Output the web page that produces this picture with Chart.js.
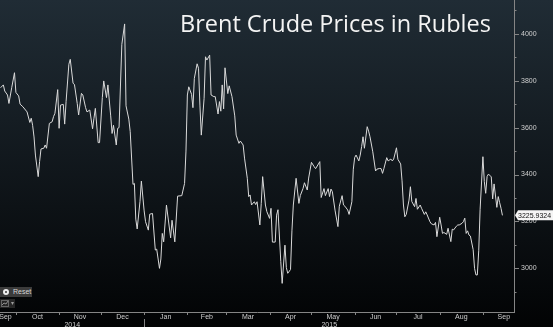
<!DOCTYPE html>
<html>
<head>
<meta charset="utf-8">
<script src="https://cdn.jsdelivr.net/npm/chart.js@4.4.0/dist/chart.umd.min.js"></script>
<style>
    html, body { margin: 0; padding: 0; }
    body {
        width: 553px;
        height: 327px;
        overflow: hidden;
        position: relative;
        background: linear-gradient(#202c35, #020304);
        font-family: 'Liberation Sans', Arial, sans-serif;
    }
    #chart { position: absolute; left: 0; top: 0; }
    .reset {
        position: absolute; left: 0; top: 287px; width: 32px; height: 10px;
        background: #3b3b3b; color: #d6d6d6; font-size: 7px; line-height: 10px;
    }
    .reset .gear {
        position: absolute; left: 3px; top: 2px; width: 2px; height: 2px;
        border: 2px solid #eeeeee; border-radius: 50%; background: #3b3b3b;
    }
    .reset .label { position: absolute; left: 13px; top: 0; }
    .chart-type {
        position: absolute; left: 0; top: 299px; width: 15px; height: 9px;
        background: #262626; color: #9a9a9a; font-size: 6px; line-height: 9px;
    }
    .chart-type svg { position: absolute; left: 1px; top: 1px; }
    .chart-type .arrow { position: absolute; left: 11px; top: 0; }
</style>
</head>
<body>
<canvas id="chart" width="553" height="327"></canvas>
<div class="reset"><span class="gear"></span><span class="label">Reset</span></div>
<div class="chart-type">
    <svg width="8" height="7" viewBox="0 0 8 7"><rect x="0.5" y="0.5" width="7" height="6" fill="none" stroke="#666"/><polyline points="1,5 3,3 5,4 7,1" fill="none" stroke="#aaa" stroke-width="0.8"/></svg>
    <span class="arrow">&#9662;</span>
</div>
<script>
// Brent in rubles, days counted from 1 Sep 2014
const days = [19, 21, 22, 24, 25, 27, 29, 30, 32, 33, 35, 38, 40, 41, 42, 43, 44, 46, 47, 48,
    50, 51, 52, 54, 56, 57, 58, 60, 61, 62, 64, 65, 66, 68, 69, 71, 72, 74, 75, 77,
    78, 80, 81, 83, 85, 86, 87, 89, 90, 92, 93, 95, 96, 98, 99, 100, 102, 103, 104, 106,
    108, 109, 111, 112, 114, 115, 116, 117, 119, 120, 122, 123, 125, 126, 128, 130, 131, 133, 134, 135,
    136, 138, 141, 142, 144, 146, 149, 151, 152, 153, 154, 156, 157, 158, 160, 161, 162, 163, 165, 166,
    167, 169, 170, 172, 173, 175, 176, 177, 178, 179, 180, 182, 183, 185, 187, 188, 190, 191, 193, 194,
    196, 197, 198, 199, 201, 202, 203, 205, 206, 207, 209, 210, 212, 213, 214, 216, 217, 218, 220, 221,
    223, 224, 225, 227, 228, 229, 231, 233, 234, 236, 237, 239, 240, 242, 244, 245, 247, 248, 249, 251,
    252, 254, 255, 256, 257, 259, 261, 262, 264, 265, 266, 268, 269, 271, 272, 273, 274, 276, 277, 278,
    279, 280, 282, 283, 284, 286, 288, 289, 291, 292, 293, 294, 296, 297, 299, 300, 301, 303, 304, 306,
    307, 308, 309, 310, 312, 313, 314, 316, 317, 318, 320, 321, 323, 324, 325, 327, 328, 330, 331, 332,
    334, 335, 336, 337, 339, 340, 342, 343, 344, 346, 347, 348, 350, 351, 352, 353, 354, 355, 356, 358,
    359, 360, 361, 362, 363, 365, 366, 367, 368, 369, 371, 372, 373, 375, 376, 377, 378, 379];

const prices = [3770, 3782, 3756, 3739, 3703, 3770, 3834, 3750, 3735, 3700, 3689, 3667, 3622, 3640, 3610, 3560, 3483, 3391, 3455, 3509,
    3512, 3526, 3512, 3618, 3625, 3647, 3661, 3762, 3597, 3696, 3699, 3615, 3711, 3870, 3891, 3789, 3784, 3703, 3654, 3746,
    3739, 3685, 3667, 3675, 3595, 3640, 3682, 3536, 3536, 3728, 3799, 3728, 3782, 3650, 3575, 3610, 3526, 3597, 3600, 3955,
    4042, 3693, 3636, 3583, 3358, 3362, 3210, 3168, 3284, 3372, 3245, 3199, 3163, 3231, 3234, 3078, 3082, 3000, 3040, 3149,
    3113, 3270, 3130, 3205, 3113, 3308, 3310, 3362, 3500, 3739, 3774, 3742, 3685, 3810, 3872, 3853, 3696, 3568, 3725, 3902,
    3888, 3909, 3739, 3732, 3732, 3658, 3711, 3670, 3782, 3680, 3855, 3745, 3778, 3732, 3650, 3568, 3533, 3543, 3526, 3470,
    3384, 3306, 3313, 3270, 3284, 3272, 3284, 3185, 3277, 3391, 3270, 3242, 3213, 3256, 3112, 3112, 3227, 3250, 3030, 2936,
    3099, 3003, 2979, 2995, 3160, 3270, 3384, 3277, 3310, 3341, 3365, 3334, 3385, 3452, 3433, 3425, 3445, 3455, 3302, 3340,
    3310, 3340, 3306, 3338, 3327, 3245, 3178, 3265, 3310, 3270, 3265, 3249, 3230, 3284, 3420, 3472, 3483, 3458, 3483, 3519,
    3561, 3512, 3604, 3585, 3561, 3497, 3415, 3423, 3426, 3425, 3405, 3426, 3472, 3458, 3466, 3458, 3466, 3514, 3465, 3445,
    3373, 3270, 3220, 3230, 3291, 3348, 3285, 3263, 3298, 3252, 3270, 3256, 3230, 3241, 3228, 3199, 3190, 3185, 3196, 3135,
    3218, 3185, 3149, 3153, 3145, 3171, 3114, 3167, 3164, 3180, 3185, 3185, 3192, 3199, 3214, 3149, 3160, 3142, 3138, 3080,
    3000, 2972, 2972, 3075, 3252, 3476, 3370, 3320, 3392, 3402, 3390, 3296, 3360, 3260, 3306, 3280, 3256, 3225.9324];

const monthLabels = ['Sep', 'Oct', 'Nov', 'Dec', 'Jan', 'Feb', 'Mar', 'Apr', 'May', 'Jun', 'Jul', 'Aug', 'Sep'];
const monthCentres = [22.5, 45.5, 76, 106.5, 137.5, 167, 196.5, 227, 257.5, 288, 318.5, 349.5, 380];
const monthStarts = [30, 61, 91, 122, 153, 181, 212, 242, 273, 303, 334, 365];
const yearLabels = ['2014', '2015'];
const yearStart = 122;
const priceTicks = [2900, 3000, 3100, 3200, 3300, 3400, 3500, 3600, 3700, 3800, 3900, 4000, 4100];
const title = 'Brent Crude Prices in Rubles';

const axisGrey = '#858585';
const labelGrey = '#cfcfcf';

// no extra room around the plot for edge labels
function fixSize(scale, size) {
    if (scale.isHorizontal()) {
        scale.height = size;
    } else {
        scale.width = size;
    }
    scale.paddingTop = 0;
    scale.paddingBottom = 0;
    scale.paddingLeft = 0;
    scale.paddingRight = 0;
}

// tick marks, year row, title and the last-price tag
const overlay = {
    id: 'overlay',
    afterDraw(chart) {
        const { ctx, chartArea, scales: { x, y } } = chart;
        ctx.save();
        ctx.strokeStyle = axisGrey;
        ctx.lineWidth = 1;

        y.ticks.forEach(t => {
            const py = Math.round(y.getPixelForValue(t.value)) + 0.5;
            const len = t.value % 200 === 0 ? 5 : 2.5;
            ctx.beginPath();
            ctx.moveTo(chartArea.right, py);
            ctx.lineTo(chartArea.right + len, py);
            ctx.stroke();
        });

        monthStarts.forEach(d => {
            const px = Math.round(x.getPixelForValue(d)) + 0.5;
            ctx.beginPath();
            ctx.moveTo(px, chartArea.bottom);
            ctx.lineTo(px, chartArea.bottom + 3);
            ctx.stroke();
        });

        const jan = Math.round(x.getPixelForValue(yearStart)) + 0.5;
        ctx.beginPath();
        ctx.moveTo(jan, chartArea.bottom + 7);
        ctx.lineTo(jan, chart.height);
        ctx.stroke();

        ctx.fillStyle = labelGrey;
        ctx.font = '7px "Liberation Sans"';
        ctx.textAlign = 'center';
        ctx.textBaseline = 'middle';
        ctx.fillText(yearLabels[0], (chartArea.left + jan) / 2, chartArea.bottom + 13);
        ctx.fillText(yearLabels[1], (jan + chartArea.right) / 2, chartArea.bottom + 13);

        ctx.fillStyle = '#f4f4f4';
        ctx.font = '23.5px "Open Sans"';
        ctx.textAlign = 'left';
        ctx.textBaseline = 'alphabetic';
        ctx.fillText(title, 180, 32);

        const last = prices[prices.length - 1];
        const ly = y.getPixelForValue(last);
        const left = chartArea.right + 1;
        ctx.fillStyle = '#f5f5f5';
        ctx.beginPath();
        ctx.moveTo(left, ly);
        ctx.lineTo(left + 3, ly - 5);
        ctx.lineTo(chart.width, ly - 5);
        ctx.lineTo(chart.width, ly + 5);
        ctx.lineTo(left + 3, ly + 5);
        ctx.closePath();
        ctx.fill();
        ctx.fillStyle = '#111111';
        ctx.font = '7px "Liberation Sans"';
        ctx.textBaseline = 'middle';
        ctx.fillText(last.toFixed(4), left + 3, ly + 0.5);
        ctx.restore();
    }
};

document.addEventListener('DOMContentLoaded', () => {
    const ctx = document.getElementById('chart').getContext('2d');
    new Chart(ctx, {
        type: 'line',
        data: {
            datasets: [{
                label: 'Brent, RUB',
                data: days.map((d, i) => ({ x: d, y: prices[i] })),
                borderColor: '#dadada',
                borderWidth: 1,
                pointRadius: 0,
                tension: 0
            }]
        },
        options: {
            responsive: false,
            animation: false,
            layout: { padding: 0, autoPadding: false },
            plugins: {
                legend: { display: false },
                tooltip: { enabled: false }
            },
            scales: {
                x: {
                    type: 'linear',
                    min: 18.6,
                    max: 387.3,
                    grid: { display: false, drawTicks: false },
                    border: { display: true, color: axisGrey },
                    ticks: {
                        color: labelGrey,
                        font: { family: 'Liberation Sans', size: 7 },
                        padding: 1,
                        autoSkip: false,
                        maxRotation: 0,
                        callback: (value, index) => monthLabels[index]
                    },
                    afterBuildTicks: scale => {
                        scale.ticks = monthCentres.map(v => ({ value: v }));
                    },
                    afterFit: scale => fixSize(scale, 15)
                },
                y: {
                    position: 'right',
                    min: 2814,
                    max: 4144,
                    grid: { display: false, drawTicks: false },
                    border: { display: true, color: axisGrey },
                    ticks: {
                        color: labelGrey,
                        font: { family: 'Liberation Sans', size: 7 },
                        padding: 7,
                        callback: value => (value % 200 === 0 ? String(value) : '')
                    },
                    afterBuildTicks: scale => {
                        scale.ticks = priceTicks.map(v => ({ value: v }));
                    },
                    afterFit: scale => fixSize(scale, 39)
                }
            }
        },
        plugins: [overlay]
    });
});
</script>
</body>
</html>
